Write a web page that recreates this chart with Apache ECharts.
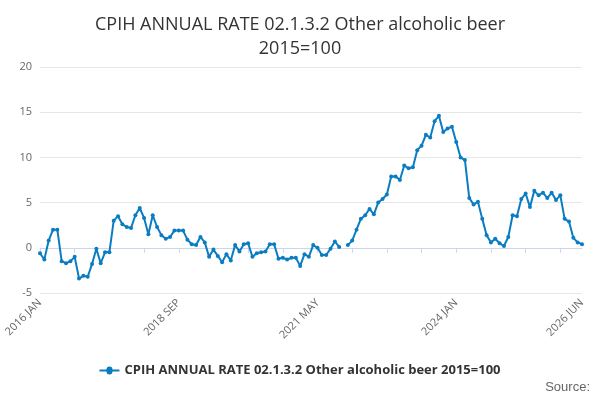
<!DOCTYPE html>
<html>
<head>
<meta charset="utf-8">
<script src="https://cdn.jsdelivr.net/npm/echarts@6/dist/echarts.min.js"></script>
<style>html,body{margin:0;padding:0;background:#fff}#chart{width:600px;height:400px}</style>
</head>
<body>
<div id="chart"></div>
<script>
var monthNames = ["JAN","FEB","MAR","APR","MAY","JUN","JUL","AUG","SEP","OCT","NOV","DEC"];
var categories = [];
for (var y = 2016; y <= 2026; y++) {
  for (var m = 0; m < 12; m++) {
    if (y === 2026 && m > 5) break;
    categories.push(y + " " + monthNames[m]);
  }
}
var values = [
  -0.6, -1.3, 0.8, 2.0, 2.0, -1.5, -1.7, -1.5, -1.0, -3.4, -3.1, -3.2,
  -1.8, -0.1, -1.7, -0.5, -0.5, 3.0, 3.5, 2.6, 2.3, 2.2, 3.6, 4.4,
  3.3, 1.5, 3.6, 2.3, 1.4, 1.0, 1.2, 1.9, 1.9, 1.9, 0.9, 0.4,
  0.3, 1.2, 0.6, -1.0, -0.2, -0.9, -1.6, -0.7, -1.4, 0.3, -0.4, 0.4,
  0.5, -1.0, -0.6, -0.5, -0.4, 0.4, 0.4, -1.2, -1.1, -1.3, -1.1, -1.1,
  -2.0, -0.7, -1.0, 0.3, 0.0, -0.8, -0.8, -0.1, 0.7, 0.1, null, 0.3,
  0.8, 2.0, 3.2, 3.6, 4.3, 3.7, 5.0, 5.4, 5.9, 7.9, 7.9, 7.5,
  9.1, 8.8, 8.9, 10.8, 11.3, 12.5, 12.2, 14.0, 14.6, 12.8, 13.2, 13.4,
  11.7, 10.0, 9.7, 5.5, 4.8, 5.1, 3.2, 1.4, 0.6, 1.0, 0.5, 0.2,
  1.2, 3.6, 3.5, 5.4, 6.0, 4.5, 6.3, 5.8, 6.1, 5.5, 6.1, 5.3,
  5.8, 3.2, 2.9, 1.1, 0.6, 0.4
];
var seriesName = "CPIH ANNUAL RATE 02.1.3.2 Other alcoholic beer 2015=100";

(function () {
  var myChart = echarts.init(document.getElementById("chart"));
  var last = categories.length - 1;
  var option = {
    animation: false,
    textStyle: { fontFamily: "Open Sans, sans-serif" },
    title: {
      text: "CPIH ANNUAL RATE 02.1.3.2 Other alcoholic beer\n2015=100",
      left: "center",
      top: 8,
      textStyle: { fontSize: 18, fontWeight: "normal", color: "#333", lineHeight: 24 }
    },
    legend: {
      bottom: 18,
      left: "center",
      icon: "path://M0,4h7a3,3 0 1,1 6,0h7v2h-7a3,3 0 1,1 -6,0h-7z",
      itemWidth: 20,
      itemHeight: 8,
      textStyle: { fontSize: 13, fontWeight: "bold", color: "#333" },
      data: [seriesName]
    },
    graphic: [{
      type: "text", right: 10, bottom: 6,
      style: { text: "Source:", fontSize: 13, fill: "#666" }
    }],
    grid: { left: 40, right: 18, top: 67, bottom: 107 },
    xAxis: {
      type: "category",
      boundaryGap: false,
      data: categories,
      axisLine: { lineStyle: { color: "#ccd6eb" } },
      axisTick: {
        show: true, lineStyle: { color: "#ccd6eb" },
        interval: function (i) { return i % 8 === 0; }
      },
      axisLabel: {
        rotate: 45, color: "#666", fontSize: 11,
        interval: function (i) { return i % 32 === 0 || i === last; }
      }
    },
    yAxis: {
      type: "value",
      min: -5, max: 20, interval: 5,
      axisLabel: { color: "#666", fontSize: 11 },
      splitLine: { lineStyle: { color: "#e6e6e6" } }
    },
    series: [{
      name: seriesName,
      type: "line",
      data: values,
      connectNulls: false,
      symbol: "circle",
      symbolSize: 4,
      showSymbol: true,
      showAllSymbol: true,
      lineStyle: { color: "#0a7dc2", width: 2 },
      itemStyle: { color: "#0a7dc2" }
    }]
  };
  myChart.setOption(option);
})();
</script>
</body>
</html>
